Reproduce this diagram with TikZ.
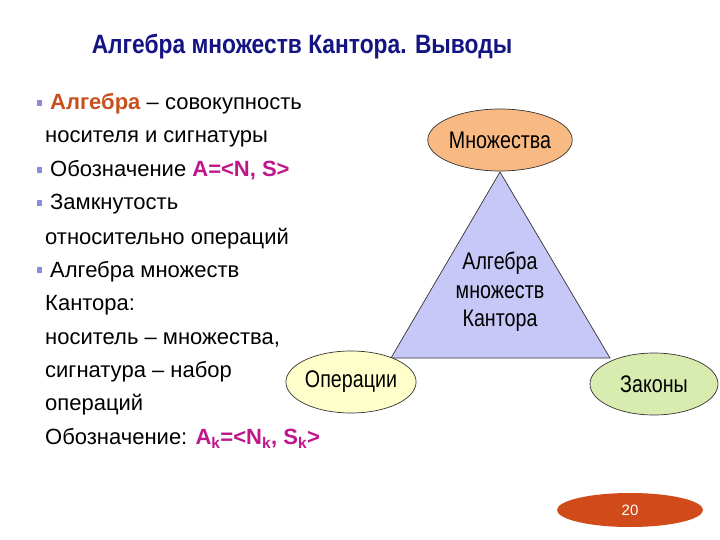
\documentclass[tikz,border=0pt]{standalone}
\usepackage{fontspec}
\setmainfont{Liberation Sans}
\newfontfamily\narrowfont{Liberation Sans}[FakeStretch=0.82]
\newfontfamily\narrowbold{Liberation Sans Bold}[FakeStretch=0.86]
\usetikzlibrary{shapes.geometric}
\definecolor{titleblue}{RGB}{20,20,130}
\definecolor{accent}{RGB}{200,80,30}
\definecolor{mag}{RGB}{192,22,140}
\definecolor{bul}{RGB}{140,140,220}
\definecolor{trifill}{RGB}{200,200,248}
\definecolor{efill1}{RGB}{248,186,130}
\definecolor{efill2}{RGB}{255,255,204}
\definecolor{efill3}{RGB}{216,236,176}
\definecolor{pagefill}{RGB}{208,74,26}
\tikzset{
  line/.style={anchor=base west, inner sep=0pt, font=\fontsize{22}{26}\selectfont},
  bulletsq/.style={fill=bul, minimum size=5.5pt, inner sep=0pt},
  oval/.style={ellipse, draw=black!80, line width=0.7pt, minimum width=126pt, minimum height=62pt, inner sep=0pt, font=\narrowfont\fontsize{24}{28}\selectfont},
}
\begin{document}
\begin{tikzpicture}[x=1pt,y=-1pt]
\useasboundingbox (0,0) rectangle (720,540);
\fill[white] (0,0) rectangle (720,540);
% title
\node[anchor=base, text=titleblue, font=\narrowbold\fontsize{26.5}{30}\selectfont, inner sep=0pt] (title) at (302,54) {Алгебра множеств Кантора. Выводы};
% bullets
\node[bulletsq] (b1) at (39.5,103) {};
\node[bulletsq] (b2) at (39.5,170) {};
\node[bulletsq] (b3) at (39.5,203) {};
\node[bulletsq] (b4) at (39.5,270) {};
% text lines
\node[line] (l1) at (50,110) {\textcolor{accent}{\textbf{Алгебра}} – совокупность};
\node[line] (l2) at (45,143) {носителя и сигнатуры};
\node[line] (l3) at (50,177) {Обозначение \textcolor{mag}{\textbf{A=<N, S>}}};
\node[line] (l4) at (50,210) {Замкнутость};
\node[line] (l5) at (45,244) {относительно операций};
\node[line] (l6) at (50,277) {Алгебра множеств};
\node[line] (l7) at (45,310) {Кантора:};
\node[line] (l8) at (45,344) {носитель – множества,};
\node[line] (l9) at (45,377) {сигнатура – набор};
\node[line] (l10) at (45,410) {операций};
\node[line] (l11) at (45,444) {Обозначение: \textcolor{mag}{\textbf{A\textsubscript{k}=<N\textsubscript{k}, S\textsubscript{k}>}}};
% triangle
\coordinate (tA) at (500,172);
\coordinate (tB) at (391,358);
\coordinate (tC) at (610,358);
\filldraw[fill=trifill, draw=black!80, line width=0.7pt] (tA) -- (tB) -- (tC) -- cycle;
\node[align=center, font=\narrowfont\fontsize{24}{28.5}\selectfont] (tri) at (500,292) {Алгебра\\множеств\\Кантора};
% ovals
\node[oval, fill=efill1] (mn) at (500,140) {Множества};
\node[oval, fill=efill2] (op) at (351,382) {Операции};
\node[oval, fill=efill3, minimum width=128pt] (za) at (654,384) {Законы};
% page number
\node[ellipse, fill=pagefill, minimum width=146pt, minimum height=34pt, inner sep=0pt, text=white, font=\fontsize{15}{18}\selectfont] (pg) at (630,510) {20};
\end{tikzpicture}
\end{document}
